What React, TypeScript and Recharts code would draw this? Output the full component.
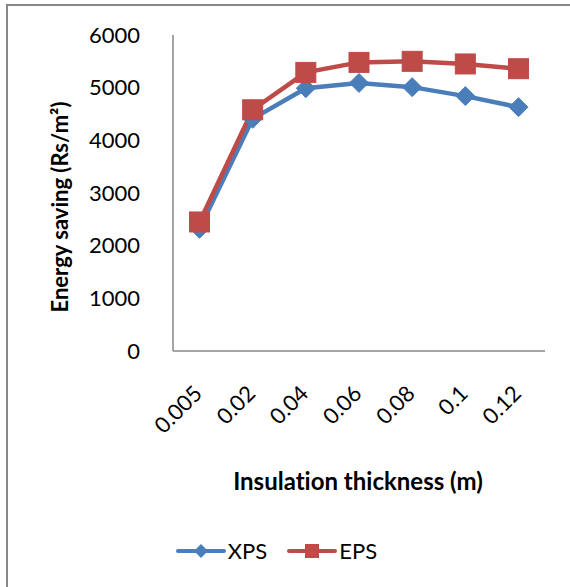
import { LineChart, Line, XAxis, YAxis } from 'recharts';

// Insulation thickness (m)
const thickness = ['0.005', '0.02', '0.04', '0.06', '0.08', '0.1', '0.12'];
// Energy saving (Rs/m2)
const xps = [2320, 4410, 4990, 5090, 5010, 4840, 4630];
const eps = [2450, 4580, 5290, 5480, 5500, 5450, 5360];
const yTicks = [0, 1000, 2000, 3000, 4000, 5000, 6000];

const data = thickness.map((t, i) => ({ t, XPS: xps[i], EPS: eps[i] }));

const FONT = "Lato, 'Liberation Sans', sans-serif";
const BLUE = '#4A7EBB';
const RED = '#BE4B48';
const AXIS = '#878787';

function Diamond({ cx, cy }: any) {
  if (cx == null || cy == null) return null;
  const r = 9.5;
  return (
    <path
      d={`M${cx},${cy - r}L${cx + r},${cy}L${cx},${cy + r}L${cx - r},${cy}Z`}
      fill={BLUE}
      stroke={BLUE}
    />
  );
}

function Square({ cx, cy }: any) {
  if (cx == null || cy == null) return null;
  const s = 10;
  return <rect x={cx - s} y={cy - s} width={s * 2} height={s * 2} fill={RED} stroke={RED} />;
}

function XTick({ x, y, payload }: any) {
  return (
    <text
      x={x + 4}
      y={y + 36}
      transform={`rotate(-45, ${x + 4}, ${y + 36})`}
      textAnchor="end"
      fontSize={22}
      fontFamily={FONT}
      fill="#000"
    >
      {payload.value}
    </text>
  );
}

function LegendIcon({ color, square }: { color: string; square?: boolean }) {
  return (
    <svg width={50} height={16} style={{ display: 'block' }}>
      <line x1={2} y1={8} x2={48} y2={8} stroke={color} strokeWidth={4} strokeLinecap="round" />
      {square ? (
        <rect x={18} y={1} width={14} height={14} fill={color} />
      ) : (
        <path d="M25,1L32,8L25,15L18,8Z" fill={color} />
      )}
    </svg>
  );
}

export default function App() {
  return (
    <div
      style={{
        position: 'absolute',
        left: 0,
        top: 0,
        width: 570,
        height: 587,
        overflow: 'hidden',
        background: '#fff',
        fontFamily: FONT,
        fontVariantLigatures: 'none',
      }}
    >
      <div
        style={{
          position: 'absolute',
          left: 6,
          top: 4,
          width: 700,
          height: 700,
          border: `2px solid ${AXIS}`,
        }}
      />
      <LineChart
        width={570}
        height={587}
        data={data}
        margin={{ top: 35, right: 25, bottom: 206, left: 0 }}
        style={{ position: 'absolute', left: 0, top: 0, fontVariantLigatures: 'none' }}
      >
        <XAxis
          dataKey="t"
          height={30}
          padding={{ left: 26.5, right: 26.5 }}
          axisLine={{ stroke: AXIS, strokeWidth: 1.5 }}
          tickLine={false}
          tick={<XTick />}
          interval={0}
          label={(props: any) => {
            const vb = props.viewBox;
            return (
              <text
                x={vb.x + vb.width / 2 - 1}
                y={490}
                textAnchor="middle"
                fontSize={24}
                fontWeight="bold"
                fontFamily={FONT}
                fill="#000"
              >
                Insulation thickness (m)
              </text>
            );
          }}
        />
        <YAxis
          width={173}
          domain={[0, 6000]}
          ticks={yTicks}
          interval={0}
          axisLine={{ stroke: AXIS, strokeWidth: 1.5 }}
          tickLine={false}
          tickMargin={27}
          tick={{ fontSize: 22, fontFamily: FONT, fill: '#000' }}
          label={() => (
            <text
              x={68}
              y={207}
              transform="rotate(-90, 68, 207)"
              textAnchor="middle"
              fontSize={22}
              fontWeight="bold"
              fontFamily={FONT}
              fill="#000"
            >
              Energy saving (Rs/m²)
            </text>
          )}
        />
        <Line
          dataKey="XPS"
          stroke={BLUE}
          strokeWidth={4.5}
          dot={<Diamond />}
          activeDot={false}
          isAnimationActive={false}
        />
        <Line
          dataKey="EPS"
          stroke={RED}
          strokeWidth={4.5}
          dot={<Square />}
          activeDot={false}
          isAnimationActive={false}
        />
      </LineChart>
      <div
        style={{
          position: 'absolute',
          left: 0,
          top: 537,
          width: 570,
          display: 'flex',
          justifyContent: 'center',
          alignItems: 'center',
          fontSize: 22,
          color: '#000',
        }}
      >
        <div style={{ display: 'flex', alignItems: 'center', marginLeft: -17 }}>
          <LegendIcon color={BLUE} />
          <span style={{ marginLeft: 2 }}>XPS</span>
          <span style={{ width: 20 }} />
          <LegendIcon color={RED} square />
          <span style={{ marginLeft: 2 }}>EPS</span>
        </div>
      </div>
    </div>
  );
}
